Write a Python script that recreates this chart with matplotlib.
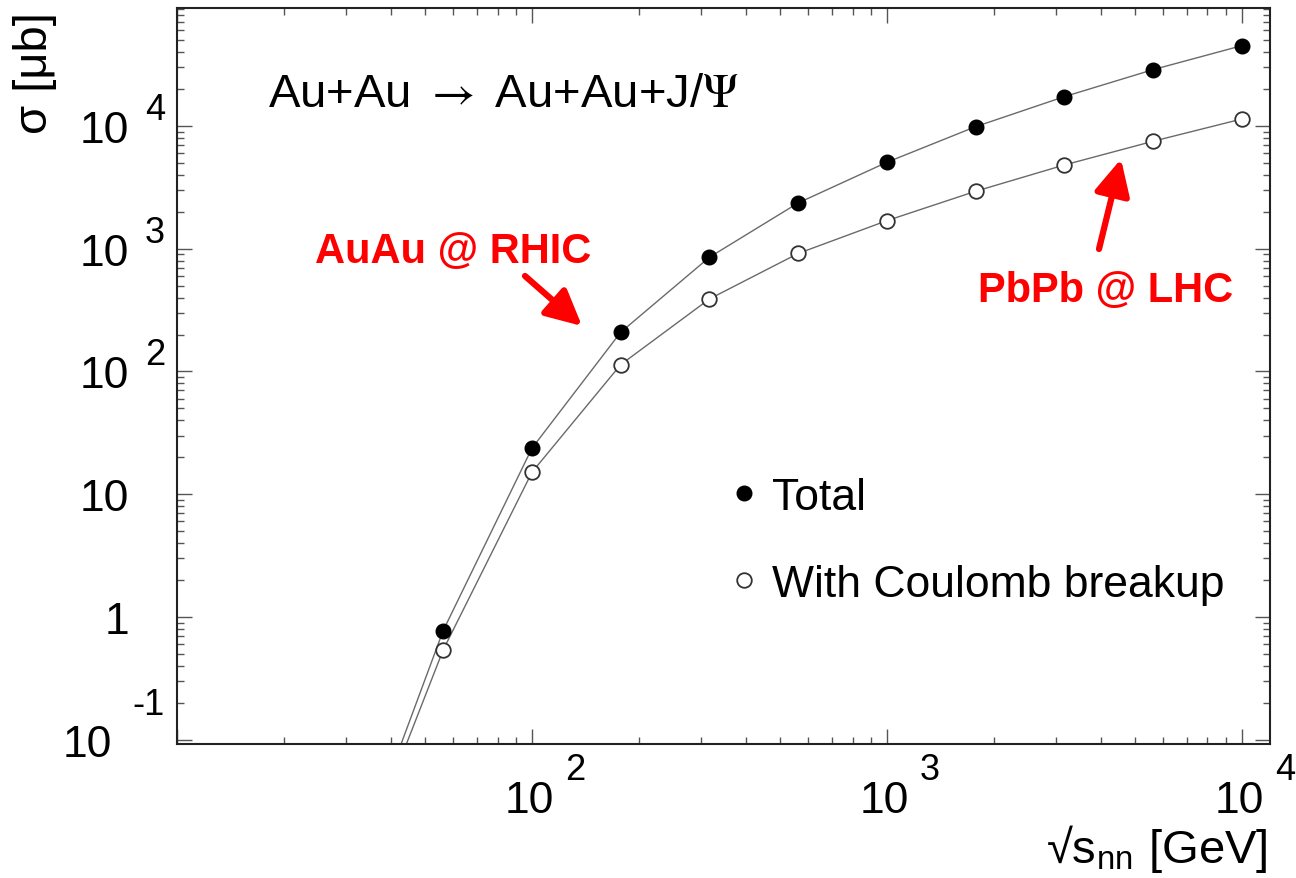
import numpy as np
import matplotlib
matplotlib.use('Agg')
import matplotlib.pyplot as plt
from matplotlib.ticker import LogLocator, NullFormatter

# sqrt(s_nn) in GeV, first point only sets where the curves leave the frame
energies = [31.6, 56.2, 100, 177.8, 316.2, 562.3, 1000, 1778, 3162, 5623, 10000]
sigma_total = [0.0087, 0.773, 23.7, 208.6, 852, 2360, 5060, 9870, 17330, 28770, 45100]
sigma_coulomb = [0.0076, 0.538, 15.1, 113.6, 389.6, 915, 1693, 2938, 4812, 7506, 11400]

xtick_vals = [1e2, 1e3, 1e4]
xtick_exps = ['2', '3', '4']
ytick_vals = [0.1, 1, 10, 1e2, 1e3, 1e4]
ytick_base = ['10', '1', '10', '10', '10', '10']
ytick_exps = ['-1', '', '', '2', '3', '4']

plt.rcParams['font.family'] = ['Liberation Sans', 'DejaVu Sans']
plt.rcParams['mathtext.fontset'] = 'stix'

W, H = 1296, 879


def fx(px):
    return px / W


def fy(py):
    return 1 - py / H


def pt(px):
    return px * 0.72


fig = plt.figure(figsize=(12.96, 8.79), dpi=100)
ax = fig.add_axes([fx(177), fy(745), fx(1270) - fx(177), fy(9) - fy(745)])

ax.plot(energies, sigma_total, color='#6a6a6a', lw=1.0, zorder=2)
ax.plot(energies, sigma_coulomb, color='#6a6a6a', lw=1.0, zorder=2)
h1, = ax.plot(energies, sigma_total, 'o', ms=10.5, mfc='black', mec='black',
              ls='none', zorder=3, label='Total')
h2, = ax.plot(energies, sigma_coulomb, 'o', ms=10.5, mfc='white', mec='#333333',
              mew=1.3, ls='none', zorder=3, label='With Coulomb breakup')

ax.set_xscale('log')
ax.set_yscale('log')
ax.set_xlim(10, 1.2e4)
ax.set_ylim(0.0923, 9.14e4)

for axis in (ax.xaxis, ax.yaxis):
    axis.set_major_locator(LogLocator(base=10, numticks=20))
    axis.set_minor_locator(LogLocator(base=10, subs=np.arange(2, 10), numticks=100))
    axis.set_minor_formatter(NullFormatter())

ax.tick_params(which='both', direction='in', top=True, right=True,
               labelbottom=False, labelleft=False, color='#555555', width=1)
ax.tick_params(which='major', length=pt(15))
ax.tick_params(which='minor', length=pt(7))
for s in ax.spines.values():
    s.set_linewidth(1.5)
    s.set_color('#222222')

# ROOT style tick labels: "10" with a detached exponent
for v, e in zip(xtick_vals, xtick_exps):
    ax.annotate('10', xy=(v, 0), xycoords=('data', 'axes fraction'),
                xytext=(pt(-3), pt(-68)), textcoords='offset points',
                ha='center', va='baseline', fontsize=32, annotation_clip=False)
    ax.annotate(e, xy=(v, 0), xycoords=('data', 'axes fraction'),
                xytext=(pt(33), pt(-35)), textcoords='offset points',
                ha='left', va='baseline', fontsize=26, annotation_clip=False)

for v, b, e in zip(ytick_vals, ytick_base, ytick_exps):
    if v < 0.5:
        bx, ex, ey = -65, -45, 26
    else:
        bx, ex, ey = -48, -32, 7
    ax.annotate(b, xy=(0, v), xycoords=('axes fraction', 'data'),
                xytext=(pt(bx), pt(-16)), textcoords='offset points',
                ha='right', va='baseline', fontsize=32, annotation_clip=False)
    if e:
        ax.annotate(e, xy=(0, v), xycoords=('axes fraction', 'data'),
                    xytext=(pt(ex), pt(ey)), textcoords='offset points',
                    ha='left', va='baseline', fontsize=26, annotation_clip=False)

fig.text(fx(1268), fy(863), r'√s$_{\mathregular{nn}}$ [GeV]', ha='right', va='baseline',
         fontsize=34)
fig.text(fx(35), fy(12), 'σ [μb]', rotation=90, ha='center', va='top', fontsize=34)

fig.text(fx(268), fy(107), r'Au+Au $\rightarrow$ Au+Au+J/$\Psi$', ha='left',
         va='baseline', fontsize=34)

fig.text(fx(315), fy(263), 'AuAu @ RHIC', color='red', fontsize=30,
         fontweight='bold', ha='left', va='baseline')
fig.text(fx(978), fy(302), 'PbPb @ LHC', color='red', fontsize=30,
         fontweight='bold', ha='left', va='baseline')

arrow = dict(arrowstyle='-|>,head_length=0.9,head_width=0.45', color='red', lw=4.5,
             mutation_scale=24, shrinkA=0, shrinkB=0)
ax.annotate('', xy=(fx(582), fy(327)), xytext=(fx(525), fy(277)),
            xycoords='figure fraction', textcoords='figure fraction', arrowprops=arrow)
ax.annotate('', xy=(fx(1121), fy(160)), xytext=(fx(1099), fy(250)),
            xycoords='figure fraction', textcoords='figure fraction', arrowprops=arrow)

ax.legend(handles=[h1, h2], loc='upper left', bbox_to_anchor=(fx(731), fy(478)),
          bbox_transform=fig.transFigure, frameon=False, fontsize=32,
          handlelength=0.6, handletextpad=0.32, labelspacing=1.03,
          borderpad=0, borderaxespad=0)

fig.savefig('out.png', dpi=100)
